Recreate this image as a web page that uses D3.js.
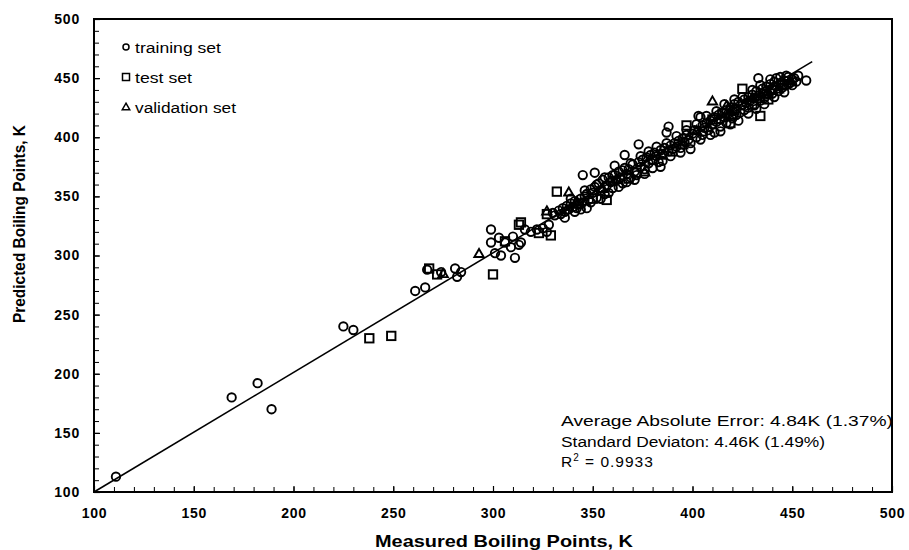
<!DOCTYPE html>
<html><head><meta charset="utf-8">
<script src="https://cdn.jsdelivr.net/npm/d3@7"></script>
<style>
body{margin:0;background:#fff;}
text{font-family:"Liberation Sans",Arial,sans-serif;fill:#000;}
</style></head>
<body><svg id="c" width="909" height="550"></svg>
<script>
const xTickValues = [100,150,200,250,300,350,400,450,500];
const yTickValues = [100,150,200,250,300,350,400,450,500];
const xTitle = "Measured Boiling Points, K";
const yTitle = "Predicted Boiling Points, K";
const legendLabels = ["training set","test set","validation set"];
const statLines = ["Average Absolute Error: 4.84K (1.37%)","Standard Deviaton: 4.46K (1.49%)"];
const r2Value = "0.9933";
const fitX = [100,460];
const fitY = [100,464];

const training = [
[111,113],[169,180],[182,192],[189,170],[225,240],[230,237],[261,270],[266,273],[267,288],[274,286],[281,289],[284,286],[282,282],
[299,322],[299,311],[301,302],[304,300],[303,315],[306,311],[310,316],[309,307],[313,309],[311,298],[316,322],[319,320],[322,322],[328,326],[314,311],[325,323],[327,320],
[330,336],[331,334],[333,338],[334,335],[335,340],[336,337],[337,342],[338,339],[339,344],[340,341],[341,346],[342,340],[343,343],[344,348],[345,345],[346,350],[347,340],[347,352],[348,347],[349,356],[345,368],[351,370],
[350,353],[351,358],[352,349],[353,361],[354,355],[355,364],[356,352],[357,359],[358,366],[359,362],[360,357],[361,376],[361,368],[362,364],[363,371],[364,366],[365,361],[366,385],[366,374],[367,369],[368,373],[369,366],[370,377],[371,371],[372,368],[373,394],[373,379],[374,375],[375,381],[376,373],
[377,383],[378,378],[379,385],[380,381],[381,387],[382,384],[383,379],[384,375],[384,389],[385,386],[386,391],[387,404],[388,409],[388,388],[389,393],[390,390],[391,395],[392,392],[393,397],[394,391],[395,399],[396,396],[397,402],[398,398],[399,395],[400,403],
[401,406],[402,400],[403,418],[404,417],[405,402],[405,410],[406,408],[407,412],[408,406],[409,414],[410,411],[411,404],[411,417],[412,413],[413,419],[414,415],[414,409],[415,421],[416,417],[417,423],[417,412],[418,420],[419,425],[420,416],[420,422],[421,428],[422,419],[422,424],[423,430],[424,421],[425,427],
[426,423],[426,432],[427,429],[428,434],[428,425],[429,431],[430,436],[431,427],[431,433],[432,439],[433,450],[433,435],[434,431],[435,441],[435,437],[436,433],[437,443],[437,439],[438,436],[439,445],[440,441],[440,437],[441,447],[442,450],[442,443],[443,439],[444,446],[445,442],[446,448],[447,444],[448,451],[449,446],[450,449],[451,450],[452,447],[457,448],
[336,332],[339,348],[341,337],[344,339],[346,355],[349,345],[352,360],[354,348],[356,366],[358,353],[360,368],[363,358],[365,372],[367,362],[369,378],[371,364],[374,384],[376,369],[378,388],[380,374],[382,392],[385,380],[387,395],[389,384],[392,401],[394,387],[397,406],[399,390],[402,411],[404,398],[407,418],[409,402],[412,422],[414,405],[416,428],[419,411],[421,432],[423,414],[425,434],[428,420],[430,440],[432,424],[434,444],[436,428],[439,449],[441,434],[444,451],[446,438],[448,445],[450,444],[453,452],[447,452]
];
const testSet = [
[238,230],[249,232],[268,289],[272,284],[300,284],[306,312],[314,328],[323,319],[329,317],[332,354],[327,335],[357,347],[313,326],[343,344],[350,348],[360,363],[368,365],[372,370],[380,381],[390,388],[397,410],[405,405],[410,415],[415,420],[419,412],[425,441],[434,418],[430,428],[436,437],[438,432],[440,440],[445,444],[421,423]
];
const validationSet = [
[275,284],[293,301],[327,337],[338,353],[342,345],[355,356],[362,364],[376,370],[385,384],[395,393],[410,430],[420,418],[430,433],[433,432],[437,436],[443,440],[449,447],[417,426],[402,405]
];

const svg = d3.select("#c");
const L=94,R=892,T=19,B=492;
const x = d3.scaleLinear().domain([100,500]).range([L,R]);
const y = d3.scaleLinear().domain([100,500]).range([B,T]);

// minor ticks
const minor = d3.range(100,501,10);
svg.append("g").attr("transform",`translate(0,${B})`)
  .call(d3.axisBottom(x).tickValues(minor).tickSize(-5).tickFormat(""))
  .call(g=>g.select(".domain").remove())
  .call(g=>g.selectAll("line").attr("stroke","#000").attr("stroke-width",1));
svg.append("g").attr("transform",`translate(${L},0)`)
  .call(d3.axisLeft(y).tickValues(minor).tickSize(-5).tickFormat(""))
  .call(g=>g.select(".domain").remove())
  .call(g=>g.selectAll("line").attr("stroke","#000").attr("stroke-width",1));

// major labels
svg.append("g").attr("transform",`translate(0,${B})`)
  .call(d3.axisBottom(x).tickValues(xTickValues).tickSize(-6).tickPadding(16).tickFormat(d3.format("d")))
  .call(g=>g.select(".domain").remove())
  .call(g=>g.selectAll("line").attr("stroke","#000").attr("stroke-width",1.2))
  .call(g=>g.selectAll("text").attr("font-size",14).attr("font-weight","bold").attr("font-family","Liberation Sans, Arial, sans-serif").attr("letter-spacing","0.8px"));
svg.append("g").attr("transform",`translate(${L},0)`)
  .call(d3.axisLeft(y).tickValues(yTickValues).tickSize(-6).tickPadding(14).tickFormat(d3.format("d")))
  .call(g=>g.select(".domain").remove())
  .call(g=>g.selectAll("line").attr("stroke","#000").attr("stroke-width",1.2))
  .call(g=>g.selectAll("text").attr("font-size",14).attr("font-weight","bold").attr("font-family","Liberation Sans, Arial, sans-serif").attr("letter-spacing","0.8px"));

// frame
svg.append("rect").attr("x",L).attr("y",T).attr("width",R-L).attr("height",B-T)
  .attr("fill","none").attr("stroke","#000").attr("stroke-width",2);

// fit line
svg.append("line").attr("x1",x(fitX[0])).attr("y1",y(fitY[0])).attr("x2",x(fitX[1])).attr("y2",y(fitY[1]))
  .attr("stroke","#000").attr("stroke-width",1.6);

const mk = {stroke:"#000","stroke-width":1.9,fill:"none"};
function style(sel){Object.entries(mk).forEach(([k,v])=>sel.attr(k,v));return sel;}

style(svg.append("g").selectAll("circle").data(training).join("circle")
  .attr("cx",d=>x(d[0])).attr("cy",d=>y(d[1])).attr("r",4.2));
style(svg.append("g").selectAll("rect").data(testSet).join("rect")
  .attr("x",d=>x(d[0])-4.2).attr("y",d=>y(d[1])-4.2).attr("width",8.4).attr("height",8.4));
const tri = d3.symbol().type(d3.symbolTriangle).size(38);
style(svg.append("g").selectAll("path").data(validationSet).join("path")
  .attr("transform",d=>`translate(${x(d[0])},${y(d[1])})`).attr("d",tri));

// legend
const lg = svg.append("g");
const legY=[47,77,107], legW=[86,57,101];
const lm = {stroke:"#000","stroke-width":1.5,fill:"none"};
function st(sel){Object.entries(lm).forEach(([k,v])=>sel.attr(k,v));return sel;}
st(lg.append("circle").attr("cx",126).attr("cy",legY[0]).attr("r",3));
st(lg.append("rect").attr("x",122.5).attr("y",legY[1]-3.5).attr("width",7).attr("height",7));
st(lg.append("path").attr("transform",`translate(126,${legY[2]+0.5})`).attr("d",d3.symbol().type(d3.symbolTriangle).size(24)));
legendLabels.forEach((t,i)=>{
  lg.append("text").attr("x",135).attr("y",legY[i]+5.5).attr("font-size",15.5)
    .attr("textLength",legW[i]).attr("lengthAdjust","spacingAndGlyphs").text(t);
});

// stats annotation
const stW=[332,264];
const stY=[426,447];
statLines.forEach((t,i)=>{
  svg.append("text").attr("x",561).attr("y",stY[i]).attr("font-size",15.5)
    .attr("textLength",stW[i]).attr("lengthAdjust","spacingAndGlyphs").text(t);
});
const r2 = svg.append("text").attr("x",561).attr("y",467).attr("font-size",15.5).attr("letter-spacing","1px");
r2.append("tspan").text("R");
r2.append("tspan").attr("dy",-6).attr("font-size",10).text("2");
r2.append("tspan").attr("dy",6).text(" = "+r2Value);

// axis titles
svg.append("text").attr("x",504).attr("y",547).attr("text-anchor","middle")
  .attr("font-size",17).attr("font-weight","bold")
  .attr("textLength",258).attr("lengthAdjust","spacingAndGlyphs").text(xTitle);
svg.append("text").attr("transform","translate(25,224) rotate(-90)").attr("text-anchor","middle")
  .attr("font-size",16).attr("font-weight","bold")
  .attr("textLength",198).attr("lengthAdjust","spacingAndGlyphs").text(yTitle);
</script></body></html>
